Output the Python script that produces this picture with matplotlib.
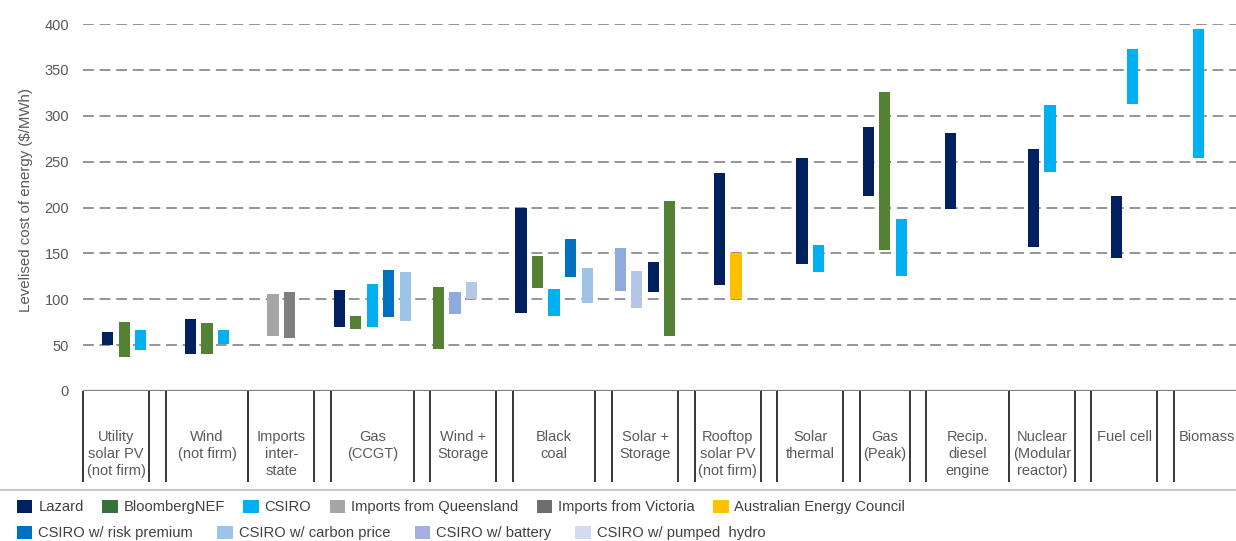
import matplotlib
matplotlib.use("Agg")
import matplotlib.pyplot as plt
from matplotlib.patches import Patch
from matplotlib.lines import Line2D

plt.rcParams['font.family'] = ['Liberation Sans', 'DejaVu Sans']

# categories (multi-line labels) and how many slots each one takes on the axis
categories = ["Utility\nsolar PV\n(not firm)", "Wind\n(not firm)", "Imports\ninter-\nstate",
              "Gas\n(CCGT)", "Wind +\nStorage", "Black\ncoal", "Solar +\nStorage",
              "Rooftop\nsolar PV\n(not firm)", "Solar\nthermal", "Gas\n(Peak)",
              "Recip.\ndiesel\nengine", "Nuclear\n(Modular\nreactor)", "Fuel cell", "Biomass"]
cat_width = [4, 5, 4, 5, 4, 5, 4, 4, 4, 3, 5, 4, 4, 4]
gap_after = [1, 0, 1, 1, 1, 1, 1, 1, 1, 1, 0, 1, 1, 0]

sources = ["Lazard", "BloombergNEF", "CSIRO", "Imports from Queensland", "Imports from Victoria",
           "Australian Energy Council", "CSIRO w/ risk premium", "CSIRO w/ carbon price",
           "CSIRO w/ battery", "CSIRO w/ pumped  hydro"]
colors = ["#002060", "#548235", "#00B0F0", "#A6A6A6", "#7F7F7F",
          "#FFC000", "#0070C0", "#9DC3E6", "#8FAADC", "#B4C7E7"]
legend_colors = ["#002060", "#37703A", "#00B0F0", "#A6A6A6", "#6E6E6E",
                 "#FFC000", "#0070C0", "#9DC3E6", "#A5B0E0", "#D3DBF1"]

# one entry per bar: category index, source index, low, high ($/MWh)
bar_cat  = [0, 0, 0,  1, 1, 1,  2, 2,  3, 3, 3, 3, 3,  4, 4, 4,  5, 5, 5, 5, 5,
            6, 6, 6, 6,  7, 7,  8, 8,  9, 9, 9,  10,  11, 11,  12, 12,  13]
bar_src  = [0, 1, 2,  0, 1, 2,  3, 4,  0, 1, 2, 6, 7,  1, 8, 9,  0, 1, 2, 6, 7,
            8, 9, 0, 1,  0, 5,  0, 2,  0, 1, 2,  0,  0, 2,  0, 2,  2]
bar_low  = [50, 37, 45,  40, 40, 51,  60, 58,  70, 68, 70, 81, 76,  46, 84, 100,
            85, 112, 82, 124, 96,  109, 90, 108, 60,  115, 100,  138, 130,
            213, 154, 125,  198,  157, 239,  145, 313,  254]
bar_high = [64, 75, 66,  79, 74, 66,  106, 108,  110, 82, 117, 132, 130,  113, 108, 119,
            200, 147, 111, 166, 134,  156, 131, 141, 207,  238, 150,  254, 159,
            288, 326, 188,  281,  264, 312,  212, 373,  395]
# slot of each bar inside its category
bar_slot = [1, 2, 3,  1, 2, 3,  1, 2,  0, 1, 2, 3, 4,  0, 1, 2,  0, 1, 2, 3, 4,
            0, 1, 2, 3,  1, 2,  1, 2,  0, 1, 2,  1,  1, 2,  1, 2,  1]

# start slot of each category
starts = []
pos = 0
for w, g in zip(cat_width, gap_after):
    starts.append(pos)
    pos += w + g

fig = plt.figure(figsize=(12.36, 5.41), dpi=100)
ax = fig.add_axes([83 / 1236, 150 / 541, 1 - 83 / 1236, 367 / 541])

xs = [starts[c] + s + 0.5 for c, s in zip(bar_cat, bar_slot)]
heights = [h - l for l, h in zip(bar_low, bar_high)]
ax.bar(xs, heights, bottom=bar_low, width=0.68,
       color=[colors[s] for s in bar_src], zorder=3)

ax.set_xlim(0, 69.75)
ax.set_ylim(0, 400)
ax.set_yticks(range(0, 401, 50))
ax.set_xticks([])
ax.tick_params(axis='y', length=0, pad=10, labelsize=10.5, labelcolor='#595959')
for sp in ax.spines.values():
    sp.set_visible(False)
ax.yaxis.grid(True, color='#8C8C8C', lw=1.3, linestyle=(0, (6, 3.2)), zorder=0)
ax.axhline(0, color='#808080', lw=1.6, zorder=2)

ax.set_ylabel("Levelised cost of energy ($/MWh)", fontsize=10.8, color='#595959')
ax.yaxis.set_label_coords(-0.0434, 0.52)

# category boxes under the axis
edges = set()
for st, w in zip(starts, cat_width):
    edges.add(st)
    edges.add(st + w)
ax.vlines(sorted(edges), -99, 0, colors='#262626', lw=1.3, clip_on=False)
for st, w, lab in zip(starts, cat_width, categories):
    ax.text(st + w / 2, -42, lab, ha='center', va='top', fontsize=10.5,
            color='#595959', linespacing=1.3, clip_on=False)

fig.add_artist(Line2D([0, 1], [51 / 541, 51 / 541], color='#C8C8C8', lw=1.5))

# legend, two rows
handles = [Patch(facecolor=c, edgecolor='none') for c in legend_colors]
rows = [range(0, 6), range(6, 10)]
for r, yy, cs in zip(rows, [34 / 541, 8 / 541], [1.25, 1.65]):
    leg = fig.legend([handles[i] for i in r], [sources[i] for i in r],
                     loc='center left', bbox_to_anchor=(17 / 1236, yy), ncol=len(r),
                     frameon=False, fontsize=10.6, handlelength=1.05, handleheight=1.05,
                     handletextpad=0.4, columnspacing=cs, borderpad=0, borderaxespad=0)
    for t in leg.get_texts():
        t.set_color('#404040')

fig.savefig("out.png", dpi=100)
